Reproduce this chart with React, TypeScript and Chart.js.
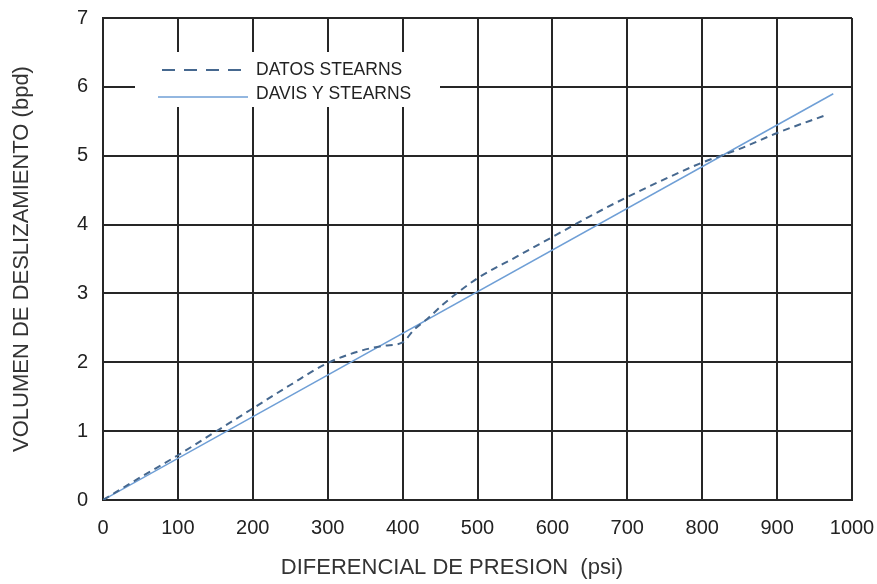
import React, { useEffect, useRef } from "react";
import { Chart, registerables } from "chart.js";

Chart.register(...registerables);

const xTicks = [0, 100, 200, 300, 400, 500, 600, 700, 800, 900, 1000];
const yTicks = [0, 1, 2, 3, 4, 5, 6, 7];

const datosX = [0, 50, 100, 150, 200, 250, 300, 345, 375, 400, 415, 435, 455, 500, 550, 600, 650, 700, 750, 800, 850, 900, 965];
const datosY = [0, 0.33, 0.65, 0.99, 1.33, 1.67, 1.99, 2.17, 2.24, 2.29, 2.47, 2.65, 2.85, 3.22, 3.52, 3.82, 4.12, 4.4, 4.66, 4.9, 5.1, 5.33, 5.59];

const davisX = [0, 975];
const davisY = [0, 5.9];

const labelDatos = "DATOS STEARNS";
const labelDavis = "DAVIS Y STEARNS";
const xTitle = "DIFERENCIAL DE PRESION  (psi)";
const yTitle = "VOLUMEN DE DESLIZAMIENTO (bpd)";

const FONT = "'Liberation Sans', Arial, sans-serif";
const DASHED_COLOR = "#46688f";
const SOLID_COLOR = "#6f9fd6";

const legendPlugin = {
  id: "boxLegend",
  afterDraw(chart: any) {
    const { ctx, chartArea } = chart;
    const l = chartArea.left;
    const t = chartArea.top;
    ctx.save();
    ctx.fillStyle = "#ffffff";
    ctx.fillRect(l + 32, t + 34, 305, 55);
    ctx.strokeStyle = DASHED_COLOR;
    ctx.lineWidth = 2;
    ctx.setLineDash([13, 9]);
    ctx.beginPath();
    ctx.moveTo(l + 59, t + 52);
    ctx.lineTo(l + 138, t + 52);
    ctx.stroke();
    ctx.setLineDash([]);
    ctx.strokeStyle = SOLID_COLOR;
    ctx.lineWidth = 1.5;
    ctx.beginPath();
    ctx.moveTo(l + 55, t + 79);
    ctx.lineTo(l + 145, t + 79);
    ctx.stroke();
    ctx.fillStyle = "#222";
    ctx.font = `17.5px ${FONT}`;
    ctx.textBaseline = "middle";
    ctx.textAlign = "left";
    const ds = chart.data.datasets;
    ctx.fillText(ds[0].label, l + 153, t + 52);
    ctx.fillText(ds[1].label, l + 153, t + 76);
    // x-axis title (offset left of the axis centre, as in the reference)
    ctx.fillStyle = "#333";
    ctx.font = `22px ${FONT}`;
    ctx.textAlign = "center";
    ctx.fillText(xTitle, l + 349, chartArea.bottom + 68);
    ctx.restore();
  },
};

export default function App() {
  const ref = useRef<HTMLCanvasElement | null>(null);
  useEffect(() => {
    document.body.style.margin = "0";
    const canvas = ref.current;
    if (!canvas) return;
    const chart = new Chart(canvas, {
      type: "scatter",
      data: {
        datasets: [
          {
            label: labelDatos,
            data: datosX.map((x, i) => ({ x, y: datosY[i] })),
            showLine: true,
            borderColor: DASHED_COLOR,
            borderWidth: 2,
            borderDash: [7, 5],
            pointRadius: 0,
            tension: 0.4,
            cubicInterpolationMode: "monotone",
            fill: false,
          },
          {
            label: labelDavis,
            data: davisX.map((x, i) => ({ x, y: davisY[i] })),
            showLine: true,
            borderColor: SOLID_COLOR,
            borderWidth: 1.5,
            pointRadius: 0,
            fill: false,
          },
        ],
      },
      options: {
        responsive: false,
        animation: false,
        layout: { padding: { left: 0, right: 25, top: 18, bottom: 0 } },
        plugins: { legend: { display: false }, tooltip: { enabled: false } },
        scales: {
          x: {
            type: "linear",
            min: 0,
            max: 1000,
            afterBuildTicks: (axis: any) => {
              axis.ticks = xTicks.map((v) => ({ value: v }));
            },
            afterFit: (axis: any) => {
              axis.height = 84;
              axis.paddingLeft = 0;
              axis.paddingRight = 0;
            },
            grid: { color: "#262626", lineWidth: 2, drawTicks: false },
            border: { color: "#262626", width: 2 },
            ticks: {
              padding: 16,
              color: "#222",
              font: { family: FONT, size: 20 },
              maxRotation: 0,
              callback: (v: any) => String(v),
            },
            title: { display: false },
          },
          y: {
            type: "linear",
            min: 0,
            max: 7,
            afterBuildTicks: (axis: any) => {
              axis.ticks = yTicks.map((v) => ({ value: v }));
            },
            afterFit: (axis: any) => {
              axis.width = 103;
              axis.paddingTop = 0;
              axis.paddingBottom = 0;
            },
            grid: { color: "#262626", lineWidth: 2, drawTicks: false },
            border: { color: "#262626", width: 2 },
            ticks: {
              padding: 15,
              color: "#222",
              font: { family: FONT, size: 20 },
              callback: (v: any) => String(v),
            },
            title: {
              display: true,
              text: yTitle,
              color: "#333",
              font: { family: FONT, size: 22 },
              padding: { top: 9, bottom: 0 },
            },
          },
        },
      },
      plugins: [legendPlugin],
    } as any);
    return () => chart.destroy();
  }, []);
  return (
    <div style={{ width: 877, height: 584 }}>
      <canvas ref={ref} width={877} height={584} style={{ display: "block" }} />
    </div>
  );
}
